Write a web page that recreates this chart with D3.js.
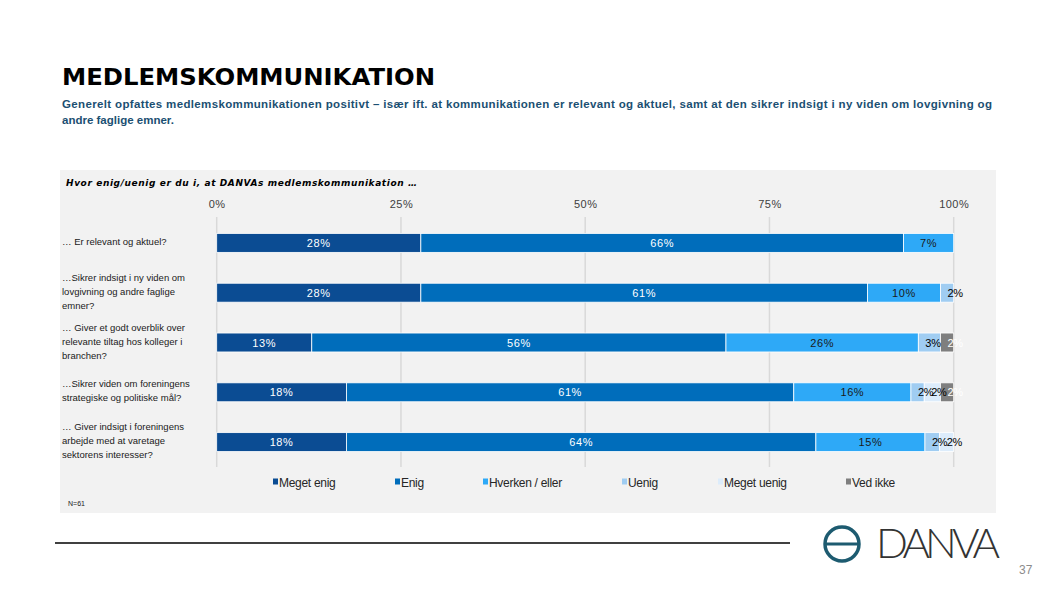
<!DOCTYPE html>
<html>
<head>
<meta charset="utf-8">
<script src="https://cdn.jsdelivr.net/npm/d3@7"></script>
<style>
  body { margin: 0; background: #fff; }
  svg { display: block; }
</style>
</head>
<body>
<svg id="chart" width="1058" height="595"></svg>
<script>
// data
const categories = [
    ["… Er relevant og aktuel?"],
    ["…Sikrer indsigt i ny viden om", "lovgivning og andre faglige", "emner?"],
    ["… Giver et godt overblik over", "relevante tiltag hos kolleger i", "branchen?"],
    ["…Sikrer viden om foreningens", "strategiske og politiske mål?"],
    ["… Giver indsigt i foreningens", "arbejde med at varetage", "sektorens interesser?"]
]
const seriesNames = ["Meget enig", "Enig", "Hverken / eller", "Uenig", "Meget uenig", "Ved ikke"]
const megetEnig  = [27.7, 27.7, 12.9, 17.6, 17.6]
const enig       = [65.5, 60.6, 56.2, 60.7, 63.7]
const hverken    = [6.8, 9.9, 26.1, 15.9, 14.8]
const uenig      = [0, 1.8, 3.0, 1.8, 2.0]
const megetUenig = [0, 0, 0, 2.2, 1.9]
const vedIkke    = [0, 0, 1.8, 1.8, 0]
const tickValues = [0, 25, 50, 75, 100]

const seriesColors = ["#0b4c93", "#006dbb", "#2ea9f7", "#a0cdf2", "#dcecfb", "#7f7f7f"]
const labelColors  = ["#ffffff", "#ffffff", "#1a1a1a", "#000000", "#000000", "#ffffff"]

const allSeries = [megetEnig, enig, hverken, uenig, megetUenig, vedIkke]
const rows = categories.map((c, i) => {
    let row = {idx: i}
    seriesNames.forEach((s, j) => row[s] = allSeries[j][i])
    return row
})

let svg = d3.select("#chart")

// slide title + subtitle
svg.append("text")
    .attr("x", 62).attr("y", 85)
    .attr("textLength", 373)
    .attr("lengthAdjust", "spacingAndGlyphs")
    .style("font-family", "DejaVu Sans")
    .style("font-weight", "bold")
    .style("font-size", "23px")
    .attr("fill", "#000")
    .text("MEDLEMSKOMMUNIKATION")

svg.append("text")
    .attr("x", 62).attr("y", 108)
    .attr("textLength", 930)
    .style("font-family", "Liberation Sans")
    .style("font-weight", "bold")
    .style("font-size", "11.5px")
    .attr("fill", "#1b4f72")
    .text("Generelt opfattes medlemskommunikationen positivt – især ift. at kommunikationen er relevant og aktuel, samt at den sikrer indsigt i ny viden om lovgivning og")
svg.append("text")
    .attr("x", 62).attr("y", 124)
    .style("font-family", "Liberation Sans")
    .style("font-weight", "bold")
    .style("font-size", "11.5px")
    .attr("fill", "#1b4f72")
    .text("andre faglige emner.")

// grey panel behind chart
svg.append("rect")
    .attr("x", 60).attr("y", 170)
    .attr("width", 936).attr("height", 343)
    .attr("fill", "#f2f2f2")

svg.append("text")
    .attr("x", 66).attr("y", 186)
    .attr("textLength", 351)
    .style("font-family", "DejaVu Sans")
    .style("font-weight", "bold")
    .style("font-style", "italic")
    .style("font-size", "9px")
    .attr("fill", "#000")
    .text("Hvor enig/uenig er du i, at DANVAs medlemskommunikation …")

let xScale = d3.scaleLinear()
    .domain([0, 100])
    .range([216.7, 953.7])

let yScale = d3.scaleBand()
    .domain(rows.map(d => d.idx))
    .range([218, 467])
    .paddingInner(0.62)
    .paddingOuter(0.31)

// gridlines
svg.append("g")
    .selectAll("line")
    .data(tickValues)
    .join("line")
    .attr("x1", d => xScale(d)).attr("x2", d => xScale(d))
    .attr("y1", 217).attr("y2", 467)
    .attr("stroke", "#d9d9d9")
    .attr("stroke-width", 1.5)

// top axis labels
let xAxis = svg.append("g")
    .attr("transform", "translate(0,217)")
    .call(d3.axisTop(xScale).tickValues(tickValues).tickFormat(d => d + "%").tickSize(0).tickPadding(9))
xAxis.select(".domain").remove()
xAxis.selectAll("text")
    .style("font-family", "Liberation Sans")
    .style("font-size", "11px")
    .style("letter-spacing", "0.5px")
    .attr("fill", "#404040")

// category labels
let catG = svg.append("g")
rows.forEach((d, i) => {
    let lines = categories[i]
    let cy = yScale(d.idx) + yScale.bandwidth() / 2 - 1
    let t = catG.append("text")
        .style("font-family", "Liberation Sans")
        .style("font-size", "9.5px")
        .attr("fill", "#1a1a1a")
    lines.forEach((l, k) => {
        t.append("tspan")
            .attr("x", 62)
            .attr("y", cy + (k - (lines.length - 1) / 2) * 14 + 3)
            .text(l)
    })
})

// stacked bars
let stack = d3.stack().keys(seriesNames)(rows)

let layers = svg.append("g")
    .selectAll("g")
    .data(stack)
    .join("g")
    .attr("fill", (d, i) => seriesColors[i])

layers.selectAll("rect")
    .data(d => d.filter(s => s[1] - s[0] > 0))
    .join("rect")
    .attr("x", s => xScale(s[0]))
    .attr("y", s => yScale(s.data.idx))
    .attr("width", s => xScale(s[1]) - xScale(s[0]))
    .attr("height", yScale.bandwidth())
    .attr("stroke", "#ffffff")
    .attr("stroke-width", 0.8)

// value labels
stack.forEach((layer, i) => {
    svg.append("g")
        .selectAll("text")
        .data(layer.filter(s => s[1] - s[0] > 0))
        .join("text")
        .attr("x", s => {
            let w = xScale(s[1]) - xScale(s[0])
            return w < 25 ? xScale(s[0]) + 7 : (xScale(s[0]) + xScale(s[1])) / 2
        })
        .attr("y", s => yScale(s.data.idx) + yScale.bandwidth() / 2 + 4)
        .attr("text-anchor", s => (xScale(s[1]) - xScale(s[0])) < 25 ? "start" : "middle")
        .style("font-family", "Liberation Sans")
        .style("font-size", "11px")
        .style("letter-spacing", s => (xScale(s[1]) - xScale(s[0])) < 25 ? "-0.3px" : "0.6px")
        .attr("fill", labelColors[i])
        .text(s => Math.round(s[1] - s[0]) + "%")
})

// legend
let legendX = [273, 395, 483, 622, 718, 846]
let legend = svg.append("g")
    .selectAll("g")
    .data(seriesNames)
    .join("g")
    .attr("transform", (d, i) => "translate(" + legendX[i] + ",482)")
legend.append("rect")
    .attr("x", 0).attr("y", -3.5)
    .attr("width", 5).attr("height", 6)
    .attr("fill", (d, i) => seriesColors[i])
legend.append("text")
    .attr("x", 6).attr("y", 4.5)
    .style("font-family", "Liberation Sans")
    .style("font-size", "12px")
    .style("letter-spacing", "-0.3px")
    .attr("fill", "#262626")
    .text(d => d)

svg.append("text")
    .attr("x", 68).attr("y", 506)
    .style("font-family", "Liberation Sans")
    .style("font-size", "7px")
    .attr("fill", "#1a1a1a")
    .text("N=61")

// footer rule, logo, page number
svg.append("line")
    .attr("x1", 55).attr("x2", 790)
    .attr("y1", 543).attr("y2", 543)
    .attr("stroke", "#000").attr("stroke-width", 1.5)

svg.append("circle")
    .attr("cx", 842).attr("cy", 544).attr("r", 17)
    .attr("fill", "none")
    .attr("stroke", "#1d5b70").attr("stroke-width", 3.5)
svg.append("rect")
    .attr("x", 826).attr("y", 542.5)
    .attr("width", 32).attr("height", 3)
    .attr("fill", "#1d5b70")
svg.append("text")
    .attr("x", 876).attr("y", 558)
    .attr("textLength", 124)
    .style("font-family", "Lato")
    .style("font-weight", "300")
    .style("font-size", "42px")
    .attr("fill", "#333")
    .text("DANVA")

svg.append("text")
    .attr("x", 1019).attr("y", 574)
    .style("font-family", "Liberation Sans")
    .style("font-size", "12px")
    .attr("fill", "#8c8c8c")
    .text("37")
</script>
</body>
</html>
